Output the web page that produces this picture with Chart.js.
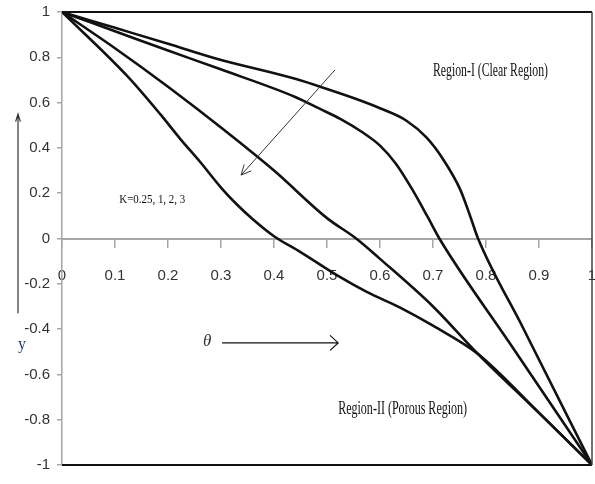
<!DOCTYPE html>
<html>
<head>
<meta charset="utf-8">
<script src="https://cdn.jsdelivr.net/npm/chart.js@4.4.0/dist/chart.umd.min.js"></script>
<style>
  html, body { margin: 0; padding: 0; background: #fff; }
</style>
</head>
<body>
<canvas id="chart" width="595" height="484"></canvas>
<script>
// Curve values (theta, y) for K = 0.25, 1, 2, 3
const thetaA = [0, 0.1, 0.2, 0.29, 0.44, 0.5, 0.55, 0.6, 0.65, 0.688, 0.719, 0.751, 0.77, 0.785, 0.87, 1];
const yA = [1, 0.93, 0.86, 0.795, 0.705, 0.66, 0.62, 0.575, 0.52, 0.445, 0.35, 0.218, 0.1, 0, -0.395, -1];

const thetaB = [0, 0.1, 0.2, 0.298, 0.44, 0.487, 0.525, 0.566, 0.6, 0.63, 0.66, 0.69, 0.712, 0.85, 1];
const yB = [1, 0.915, 0.83, 0.748, 0.625, 0.572, 0.528, 0.47, 0.41, 0.33, 0.22, 0.095, 0, -0.48, -1];

const thetaC = [0, 0.1, 0.2, 0.3, 0.4, 0.5, 0.555, 0.6, 0.7, 0.785, 0.9, 1];
const yC = [1, 0.84, 0.67, 0.49, 0.3, 0.09, 0, -0.09, -0.3, -0.51, -0.77, -1];

const thetaD = [0, 0.122, 0.185, 0.223, 0.26, 0.3, 0.33, 0.36, 0.4, 0.45, 0.525, 0.575, 0.638, 0.7, 0.785, 0.9, 1];
const yD = [1, 0.72, 0.55, 0.44, 0.34, 0.225, 0.15, 0.085, 0.01, -0.06, -0.171, -0.236, -0.305, -0.385, -0.51, -0.77, -1];

const xTicks = [0, 0.1, 0.2, 0.3, 0.4, 0.5, 0.6, 0.7, 0.8, 0.9, 1];
const yTicks = [-1, -0.8, -0.6, -0.4, -0.2, 0, 0.2, 0.4, 0.6, 0.8, 1];

const tickFont = { family: "'Liberation Sans', Arial, sans-serif", size: 15 };
const axisGrey = "#a6a6a6";
const serif = "'Liberation Serif', serif";

function toPoints(xs, ys) {
  return xs.map((x, i) => ({ x: x, y: ys[i] }));
}

function fmt(v) {
  return String(+v.toFixed(1));
}

function drawArrow(ctx, x1, y1, x2, y2, headLen, headAngle) {
  const ang = Math.atan2(y2 - y1, x2 - x1);
  ctx.beginPath();
  ctx.moveTo(x1, y1);
  ctx.lineTo(x2, y2);
  ctx.moveTo(x2 - headLen * Math.cos(ang - headAngle), y2 - headLen * Math.sin(ang - headAngle));
  ctx.lineTo(x2, y2);
  ctx.lineTo(x2 - headLen * Math.cos(ang + headAngle), y2 - headLen * Math.sin(ang + headAngle));
  ctx.stroke();
}

// text squeezed horizontally to a given width, like the narrow serif of the original
function squeezedText(ctx, text, x, y, font, width) {
  ctx.save();
  ctx.font = font;
  const k = width / ctx.measureText(text).width;
  ctx.translate(x, y);
  ctx.scale(k, 1);
  ctx.fillText(text, 0, 0);
  ctx.restore();
}

const decor = {
  id: "decor",
  afterDraw(chart) {
    const { ctx, chartArea, scales } = chart;
    const px = (v) => scales.x.getPixelForValue(v);
    const py = (v) => scales.y.getPixelForValue(v);

    ctx.save();
    // plot frame: top, bottom and right edges
    ctx.strokeStyle = "#111";
    ctx.lineWidth = 2;
    ctx.beginPath();
    ctx.moveTo(chartArea.left, chartArea.top);
    ctx.lineTo(chartArea.right, chartArea.top);
    ctx.moveTo(chartArea.left, chartArea.bottom);
    ctx.lineTo(chartArea.right, chartArea.bottom);
    ctx.stroke();
    ctx.strokeStyle = "#444";
    ctx.lineWidth = 1.5;
    ctx.beginPath();
    ctx.moveTo(chartArea.right, chartArea.top);
    ctx.lineTo(chartArea.right, chartArea.bottom);
    ctx.stroke();

    // K direction arrow
    ctx.strokeStyle = "#333";
    ctx.lineWidth = 1;
    drawArrow(ctx, px(0.515), py(0.744), px(0.338), py(0.28), 11, 0.45);

    ctx.fillStyle = "#111";
    ctx.textBaseline = "middle";
    ctx.textAlign = "left";
    squeezedText(ctx, "K=0.25, 1, 2, 3", px(0.108), py(0.174), "13px " + serif, 66);
    squeezedText(ctx, "Region-I (Clear Region)", px(0.70), py(0.74), "19px " + serif, 115);
    squeezedText(ctx, "Region-II (Porous Region)", px(0.521), py(-0.753), "19px " + serif, 129);

    // theta label and arrow
    ctx.fillStyle = "#333";
    ctx.textAlign = "center";
    ctx.font = "italic 17px " + serif;
    ctx.fillText("\u03b8", px(0.274), py(-0.457));
    ctx.strokeStyle = "#111";
    ctx.lineWidth = 1.2;
    drawArrow(ctx, px(0.302), py(-0.461), px(0.521), py(-0.461), 11, 0.75);

    // y arrow outside the axis
    const ax = chartArea.left - 44;
    ctx.strokeStyle = "#333";
    ctx.lineWidth = 1.2;
    drawArrow(ctx, ax, py(-0.33), ax, py(0.55), 8, 0.3);
    ctx.fillStyle = "#1f3b70";
    ctx.font = "16px " + serif;
    ctx.fillText("y", ax + 4, py(-0.47));
    ctx.restore();
  }
};

new Chart(document.getElementById("chart"), {
  type: "line",
  data: {
    datasets: [
      { label: "K=0.25", data: toPoints(thetaA, yA) },
      { label: "K=1", data: toPoints(thetaB, yB) },
      { label: "K=2", data: toPoints(thetaC, yC) },
      { label: "K=3", data: toPoints(thetaD, yD) }
    ].map((d) => Object.assign(d, {
      borderColor: "#111",
      borderWidth: 2.6,
      pointRadius: 0,
      fill: false,
      cubicInterpolationMode: "monotone"
    }))
  },
  options: {
    responsive: false,
    animation: false,
    devicePixelRatio: 1,
    layout: { padding: { top: 12, right: 3, bottom: 19, left: 0 } },
    plugins: {
      legend: { display: false },
      tooltip: { enabled: false }
    },
    scales: {
      x: {
        type: "linear",
        min: 0,
        max: 1,
        position: { y: 0 },
        afterBuildTicks: (s) => { s.ticks = xTicks.map((v) => ({ value: v })); },
        afterFit: (s) => { s.paddingLeft = 0; s.paddingRight = 0; },
        ticks: {
          callback: (v) => fmt(v),
          font: tickFont,
          color: "#333",
          padding: 20,
          maxRotation: 0,
          autoSkip: false
        },
        grid: { drawOnChartArea: false, drawTicks: true, tickLength: 8, color: axisGrey, lineWidth: 1.5 },
        border: { color: axisGrey, width: 2 }
      },
      y: {
        type: "linear",
        min: -1,
        max: 1,
        position: "left",
        afterBuildTicks: (s) => { s.ticks = yTicks.map((v) => ({ value: v })); },
        afterFit: (s) => { s.width = 62; s.paddingTop = 0; s.paddingBottom = 0; },
        ticks: {
          callback: (v) => fmt(v),
          font: tickFont,
          color: "#333",
          padding: 7
        },
        grid: { drawOnChartArea: false, drawTicks: true, tickLength: 5, color: axisGrey, lineWidth: 1.5 },
        border: { color: axisGrey, width: 1.5 }
      }
    }
  },
  plugins: [decor]
});
</script>
</body>
</html>
